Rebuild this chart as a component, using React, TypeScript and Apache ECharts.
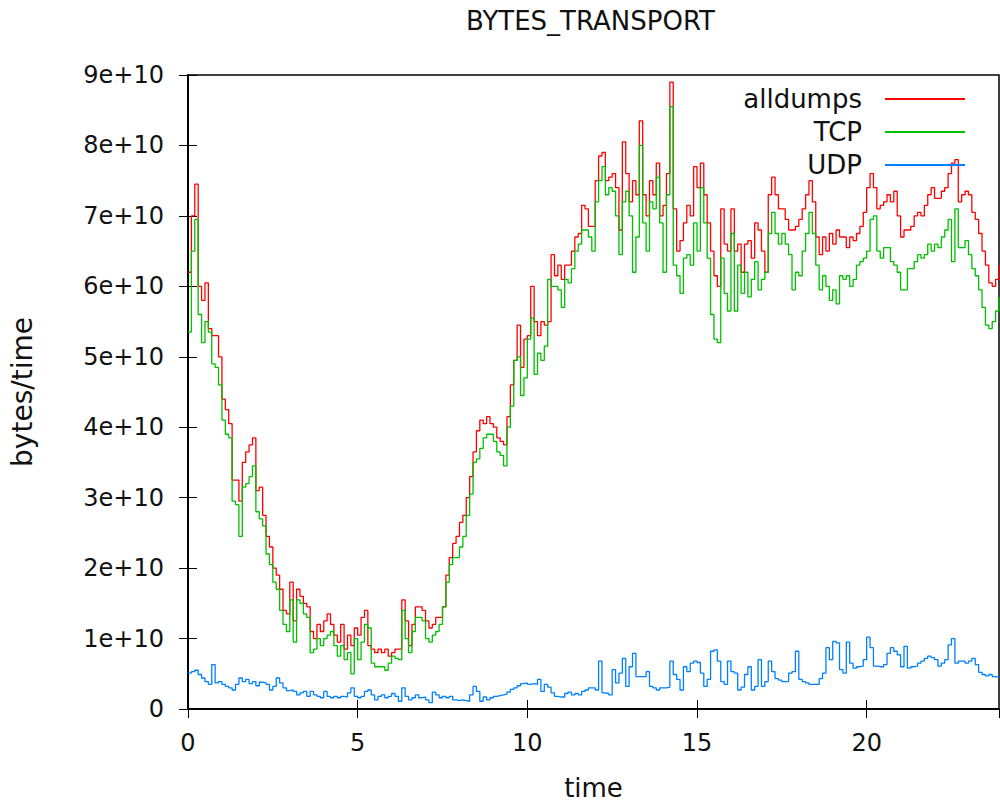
import React, { useEffect, useRef } from "react";
import * as echarts from "echarts";

// Sampling interval of the traces, in hours.
const STEP = 0.1;
// Values are stored in units of 1e10 bytes.
const UNIT = 1e10;

const SERIES_NAMES = ["alldumps", "TCP", "UDP"];
const SERIES_COLORS = ["#ff0000", "#00c000", "#0080ff"];

const ALLDUMPS = [
  6.2, 7.0, 7.45, 6.0, 5.8, 6.05, 5.4, 5.3, 5.3, 5.0,
  4.4, 4.25, 4.05, 3.25, 3.25, 2.95, 3.5, 3.65, 3.75, 3.85,
  3.1, 3.15, 2.75, 2.45, 2.3, 2.0, 1.9, 1.7, 1.4, 1.35,
  1.8, 1.25, 1.7, 1.6, 1.5, 1.45, 1.1, 1.0, 1.2, 1.1,
  1.25, 1.35, 1.2, 1.05, 0.95, 1.2, 0.85, 1.05, 0.9, 1.15,
  1.05, 1.3, 1.4, 0.9, 0.85, 0.8, 0.85, 0.8, 0.85, 0.75,
  0.8, 0.85, 0.85, 1.55, 1.25, 0.9, 1.2, 1.45, 1.45, 1.4,
  1.25, 1.15, 1.2, 1.3, 1.3, 1.45, 1.9, 2.15, 2.35, 2.45,
  2.65, 2.75, 3.0, 3.3, 3.65, 3.95, 4.1, 4.05, 4.15, 4.05,
  4.0, 3.85, 3.8, 3.75, 4.15, 4.6, 4.95, 5.45, 4.85, 5.25,
  5.3, 6.0, 5.5, 5.3, 5.5, 5.45, 5.5, 6.45, 6.15, 6.3,
  6.1, 6.3, 6.3, 6.5, 6.7, 6.75, 7.15, 7.1, 6.85, 6.85,
  7.5, 7.85, 7.9, 7.5, 7.55, 7.6, 7.4, 6.8, 8.05, 7.6,
  7.2, 7.5, 7.3, 8.35, 7.3, 7.0, 7.5, 7.3, 7.75, 7.0,
  7.15, 7.6, 8.9, 7.1, 6.5, 6.65, 6.9, 7.15, 7.0, 7.7,
  7.4, 7.75, 7.3, 6.9, 6.5, 6.15, 6.0, 7.1, 6.6, 6.5,
  7.1, 6.5, 6.6, 6.2, 6.6, 6.65, 6.4, 6.9, 6.8, 6.5,
  6.2, 7.3, 7.55, 7.3, 7.1, 7.1, 6.95, 6.8, 6.8, 6.85,
  6.95, 7.1, 7.3, 7.5, 7.2, 6.7, 6.45, 6.7, 6.5, 6.75,
  6.6, 6.8, 6.7, 6.7, 6.55, 6.7, 6.65, 6.75, 6.85, 7.05,
  7.4, 7.6, 7.4, 7.1, 7.15, 7.2, 7.3, 7.2, 7.35, 7.0,
  6.7, 6.8, 6.8, 6.85, 7.0, 7.05, 7.0, 7.15, 7.3, 7.4,
  7.25, 7.25, 7.35, 7.4, 7.6, 7.75, 7.8, 7.2, 7.3, 7.35,
  7.3, 7.05, 6.95, 6.75, 6.5, 6.3, 6.05, 6.0, 6.1, 6.3,
];

const TCP = [
  5.35, 6.5, 6.95, 5.6, 5.2, 5.5, 5.35, 4.9, 4.85, 4.6,
  4.1, 3.9, 3.85, 2.95, 2.9, 2.45, 3.15, 3.2, 3.3, 3.45,
  2.8, 2.7, 2.6, 2.2, 2.05, 1.8, 1.7, 1.4, 1.2, 1.1,
  1.55, 0.95, 1.55, 1.5, 1.35, 1.3, 0.8, 0.85, 1.0, 0.9,
  1.0, 1.05, 1.1, 0.9, 0.75, 0.9, 0.7, 0.8, 0.5, 1.0,
  0.7, 0.95, 1.2, 1.15, 0.65, 0.6, 0.6, 0.6, 0.55, 0.65,
  0.75, 0.72, 0.7, 1.4, 1.0, 0.8, 1.1, 1.3, 1.3, 1.25,
  1.0, 0.95, 1.05, 1.1, 1.2, 1.45, 1.8, 2.05, 2.15, 2.15,
  2.3, 2.45, 2.75, 3.05, 3.5, 3.55, 3.7, 3.85, 3.9, 3.9,
  3.8, 3.65, 3.6, 3.45, 4.0, 4.3, 4.95, 5.0, 4.45, 4.7,
  5.25, 5.55, 4.75, 5.05, 4.95, 5.15, 6.1, 6.0, 6.0, 5.95,
  5.7, 6.1, 6.05, 6.25, 6.5, 6.6, 6.8, 6.8, 6.7, 6.5,
  7.2, 7.5, 7.7, 7.3, 7.4, 7.35, 7.0, 6.45, 7.2, 7.35,
  7.0, 6.2, 6.7, 8.0, 6.9, 6.5, 7.2, 7.1, 7.55, 6.9,
  6.2, 7.3, 8.55, 6.3, 6.15, 5.9, 6.4, 6.45, 6.3, 6.9,
  6.5, 7.4, 6.9, 6.4, 5.6, 5.25, 5.2, 6.4, 5.9, 5.65,
  6.75, 5.65, 6.3, 5.9, 6.2, 5.85, 6.1, 6.35, 5.95, 6.1,
  6.2, 6.75, 7.05, 6.75, 6.6, 6.75, 6.6, 6.45, 5.95, 6.2,
  6.15, 6.5, 6.75, 7.05, 6.75, 6.3, 5.95, 6.15, 6.0, 5.8,
  5.95, 5.75, 6.15, 6.1, 6.15, 6.0, 6.1, 6.3, 6.35, 6.4,
  6.5, 6.95, 7.0, 6.5, 6.4, 6.55, 6.55, 6.35, 6.3, 6.2,
  5.95, 5.95, 6.25, 6.25, 6.35, 6.45, 6.4, 6.45, 6.6, 6.5,
  6.6, 6.55, 6.7, 6.8, 6.95, 6.35, 7.1, 6.55, 6.55, 6.65,
  6.45, 6.25, 6.15, 5.95, 5.7, 5.45, 5.4, 5.5, 5.65, 5.85,
];

const UDP = [
  0.51, 0.53, 0.55, 0.49, 0.44, 0.39, 0.35, 0.63, 0.37, 0.39,
  0.35, 0.32, 0.3, 0.27, 0.35, 0.44, 0.39, 0.42, 0.36, 0.39,
  0.33, 0.38, 0.37, 0.35, 0.27, 0.32, 0.44, 0.37, 0.3, 0.26,
  0.27, 0.25, 0.2, 0.23, 0.25, 0.18, 0.25, 0.2, 0.18, 0.16,
  0.25, 0.18, 0.16, 0.18, 0.16, 0.18, 0.17, 0.23, 0.3, 0.18,
  0.16, 0.18, 0.25, 0.27, 0.2, 0.13, 0.18, 0.2, 0.16, 0.18,
  0.22, 0.18, 0.11, 0.3, 0.18, 0.13, 0.16, 0.2, 0.16, 0.17,
  0.13, 0.09, 0.24, 0.2, 0.16, 0.18, 0.16, 0.18, 0.13, 0.12,
  0.13, 0.12, 0.11, 0.2, 0.32, 0.25, 0.11, 0.17, 0.13, 0.16,
  0.18, 0.19, 0.2, 0.21, 0.24, 0.28, 0.3, 0.33, 0.36, 0.37,
  0.35, 0.36, 0.35, 0.42, 0.25, 0.35, 0.31, 0.23, 0.18, 0.17,
  0.17, 0.22, 0.24, 0.2, 0.22, 0.2, 0.25, 0.27, 0.3, 0.3,
  0.27, 0.68, 0.23, 0.22, 0.2, 0.56, 0.37, 0.51, 0.72, 0.32,
  0.6, 0.79, 0.46, 0.46, 0.46, 0.53, 0.32, 0.3, 0.27, 0.3,
  0.3, 0.31, 0.68, 0.49, 0.42, 0.27, 0.6, 0.53, 0.65, 0.68,
  0.66, 0.51, 0.32, 0.42, 0.82, 0.84, 0.68, 0.39, 0.35, 0.68,
  0.53, 0.51, 0.27, 0.31, 0.49, 0.6, 0.27, 0.32, 0.7, 0.32,
  0.39, 0.68, 0.53, 0.43, 0.41, 0.39, 0.39, 0.51, 0.53, 0.82,
  0.42, 0.39, 0.37, 0.35, 0.35, 0.35, 0.43, 0.51, 0.87, 0.7,
  0.96, 0.94, 0.56, 0.51, 0.95, 0.65, 0.58, 0.6, 0.61, 0.7,
  1.02, 0.87, 0.61, 0.6, 0.6, 0.63, 0.79, 0.87, 0.82, 0.77,
  0.6, 0.89, 0.58, 0.6, 0.61, 0.65, 0.68, 0.72, 0.75, 0.73,
  0.7, 0.61, 0.65, 0.7, 0.91, 1.0, 0.65, 0.68, 0.68, 0.65,
  0.68, 0.72, 0.63, 0.52, 0.49, 0.47, 0.49, 0.46, 0.45, 0.44,
];

const X_MIN = 0;
const X_MAX = 23.9;
const X_INTERVAL = 5;
const Y_MIN = 0;
const Y_MAX = 9e10;
const Y_INTERVAL = 1e10;

const FONT = "DejaVu Sans";
const TEXT_COLOR = "#111";

const toPoints = (vals: number[]) =>
  vals.map((v, i) => [Number((i * STEP).toFixed(1)), v * UNIT]);

const formatY = (v: number) => (v === 0 ? "0" : `${Math.round(v / UNIT)}e+10`);

export default function App() {
  const ref = useRef<HTMLDivElement>(null);

  useEffect(() => {
    document.body.style.margin = "0";
    if (!ref.current) return;
    const chart = echarts.init(ref.current, undefined, { renderer: "svg" });

    const tickStyle = { lineStyle: { color: "#000", width: 1 } };
    const frameLine = { show: true, lineStyle: { color: "#000", width: 1.5 } };
    const values = [ALLDUMPS, TCP, UDP];

    chart.setOption({
      animation: false,
      backgroundColor: "#fff",
      textStyle: { fontFamily: FONT },
      title: {
        text: "BYTES_TRANSPORT",
        left: 466,
        top: 8,
        padding: 0,
        textStyle: { fontFamily: FONT, fontSize: 26, fontWeight: "normal", color: TEXT_COLOR },
      },
      legend: SERIES_NAMES.map((name, i) => ({
        data: [name],
        orient: "vertical",
        right: 35,
        top: 86 + i * 33,
        align: "right",
        icon: "rect",
        itemWidth: 80,
        itemHeight: 2,
        padding: 0,
        selectedMode: false,
        textStyle: {
          fontFamily: FONT,
          fontSize: 26,
          color: TEXT_COLOR,
          padding: [0, 18, 0, 0],
        },
      })),
      grid: {
        left: 187,
        right: 1,
        top: 75,
        bottom: 100,
        show: true,
        borderColor: "#000",
        borderWidth: 1.5,
        backgroundColor: "transparent",
      },
      xAxis: [
        {
          type: "value",
          min: X_MIN,
          max: X_MAX,
          interval: X_INTERVAL,
          name: "time",
          nameLocation: "middle",
          nameGap: 66,
          nameTextStyle: { fontFamily: FONT, fontSize: 26, color: TEXT_COLOR },
          axisLine: frameLine,
          axisTick: { show: true, inside: true, length: 9, ...tickStyle },
          axisLabel: {
            show: true,
            margin: 22,
            showMaxLabel: false,
            fontFamily: FONT,
            fontSize: 24,
            color: TEXT_COLOR,
          },
          splitLine: { show: false },
        },
        {
          type: "value",
          position: "top",
          min: X_MIN,
          max: X_MAX,
          interval: X_INTERVAL,
          axisLine: frameLine,
          axisTick: { show: true, inside: true, length: 9, ...tickStyle },
          axisLabel: { show: false },
          splitLine: { show: false },
        },
      ],
      yAxis: [
        {
          type: "value",
          min: Y_MIN,
          max: Y_MAX,
          interval: Y_INTERVAL,
          name: "bytes/time",
          nameLocation: "middle",
          nameRotate: 90,
          nameGap: 152,
          nameTextStyle: { fontFamily: FONT, fontSize: 28, color: TEXT_COLOR },
          axisLine: frameLine,
          axisTick: { show: true, inside: true, length: 9, ...tickStyle },
          axisLabel: {
            margin: 24,
            fontFamily: FONT,
            fontSize: 24,
            color: TEXT_COLOR,
            formatter: formatY,
          },
          splitLine: { show: false },
        },
        {
          type: "value",
          position: "right",
          min: Y_MIN,
          max: Y_MAX,
          interval: Y_INTERVAL,
          axisLine: frameLine,
          axisTick: { show: true, inside: true, length: 9, ...tickStyle },
          axisLabel: { show: false },
          splitLine: { show: false },
        },
      ],
      series: SERIES_NAMES.map((name, i) => ({
        name,
        type: "line",
        xAxisIndex: 0,
        yAxisIndex: 0,
        step: "end",
        showSymbol: false,
        symbol: "none",
        color: SERIES_COLORS[i],
        lineStyle: { color: SERIES_COLORS[i], width: 1.3 },
        data: toPoints(values[i]),
      })),
    });

    return () => chart.dispose();
  }, []);

  return <div ref={ref} style={{ width: 1000, height: 809 }} />;
}
